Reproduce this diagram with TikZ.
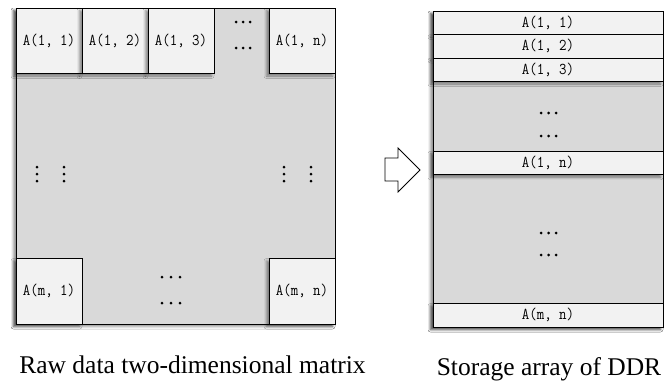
\documentclass[tikz,border=0pt]{standalone}
\usepackage{fontspec}
\setmainfont{Liberation Serif}
\setmonofont{Latin Modern Mono}[FakeStretch=0.88]
\usetikzlibrary{shadows.blur}
\usetikzlibrary{positioning}
\tikzset{>=stealth}
\colorlet{background}{white}
\definecolor{matFill}{RGB}{217,217,217}
\definecolor{cellFill}{RGB}{242,242,242}
\tikzset{
  boxshadow/.style={blur shadow={shadow xshift=-2.5pt,shadow yshift=-2.5pt,
      shadow blur radius=2.5pt,shadow opacity=45}},
  bigbox/.style={draw,line width=0.9pt,fill=matFill,boxshadow,inner sep=0pt,outer sep=0pt},
  cell/.style={draw,line width=0.9pt,fill=cellFill,boxshadow,inner sep=0pt,outer sep=0pt,
      minimum width=66pt,minimum height=65.5pt,font=\ttfamily\fontsize{16.5}{19}\selectfont},
  row/.style={cell,minimum width=230pt,minimum height=23.5pt},
  dot/.style={fill=black,circle,inner sep=0pt,minimum size=3pt},
  caption/.style={anchor=base,font=\fontsize{25.5}{30}\selectfont},
}

\begin{document}
\begin{tikzpicture}[x=1pt,y=-1pt]
    \useasboundingbox[fill=background] (0,0) rectangle (665,383);
    % raw matrix
      \node[bigbox,minimum width=319pt,minimum height=316pt] (mat) at (175.5,166) {};
      \node[cell,anchor=north west] (a11) at (mat.north west) {A(1, 1)};
      \node[cell,right=0pt of a11] (a12) {A(1, 2)};
      \node[cell,right=0pt of a12] (a13) {A(1, 3)};
      \node[cell,anchor=north east] (a1n) at (mat.north east) {A(1, n)};
      \node[cell,anchor=south west] (am1) at (mat.south west) {A(m, 1)};
      \node[cell,anchor=south east] (amn) at (mat.south east) {A(m, n)};
      \foreach \x in {236,243,250} {
        \node[dot] at (\x,22) {};
        \node[dot] at (\x,48) {};
      }
      \foreach \x in {162,171,180} {
        \node[dot] at (\x,277) {};
        \node[dot] at (\x,303) {};
      }
      \foreach \x in {37,64,284,311}
        \foreach \y in {167,174,181}
          \node[dot] at (\x,\y) {};
    % arrow
      \coordinate (P) at (385,158);
      \coordinate (Q) at (398,158);
      \coordinate (R) at (398,148);
      \coordinate (T) at (420,170);
      \coordinate (S) at (398,192);
      \coordinate (U) at (398,181);
      \coordinate (V) at (385,181);
      \draw[line width=0.8pt,fill=white] (P)--(Q)--(R)--(T)--(S)--(U)--(V)--cycle;
    % DDR storage
      \node[bigbox,minimum width=230pt,minimum height=316pt] (ddr) at (548,169) {};
      \node[row,anchor=north] (r11) at (ddr.north) {A(1, 1)};
      \node[row,below=0pt of r11] (r12) {A(1, 2)};
      \node[row,below=0pt of r12] (r13) {A(1, 3)};
      \node[row] (r1n) at (548,163) {A(1, n)};
      \node[row,anchor=south] (rmn) at (ddr.south) {A(m, n)};
      \foreach \y in {113,136,233,255}
        \foreach \x in {541,548.5,556}
          \node[dot] at (\x,\y) {};
      \node[caption] (cap1) at (192.5,373) {Raw data two-dimensional matrix};
      \node[caption] (cap2) at (549,375) {Storage array of DDR};
    \end{tikzpicture}
\end{document}
